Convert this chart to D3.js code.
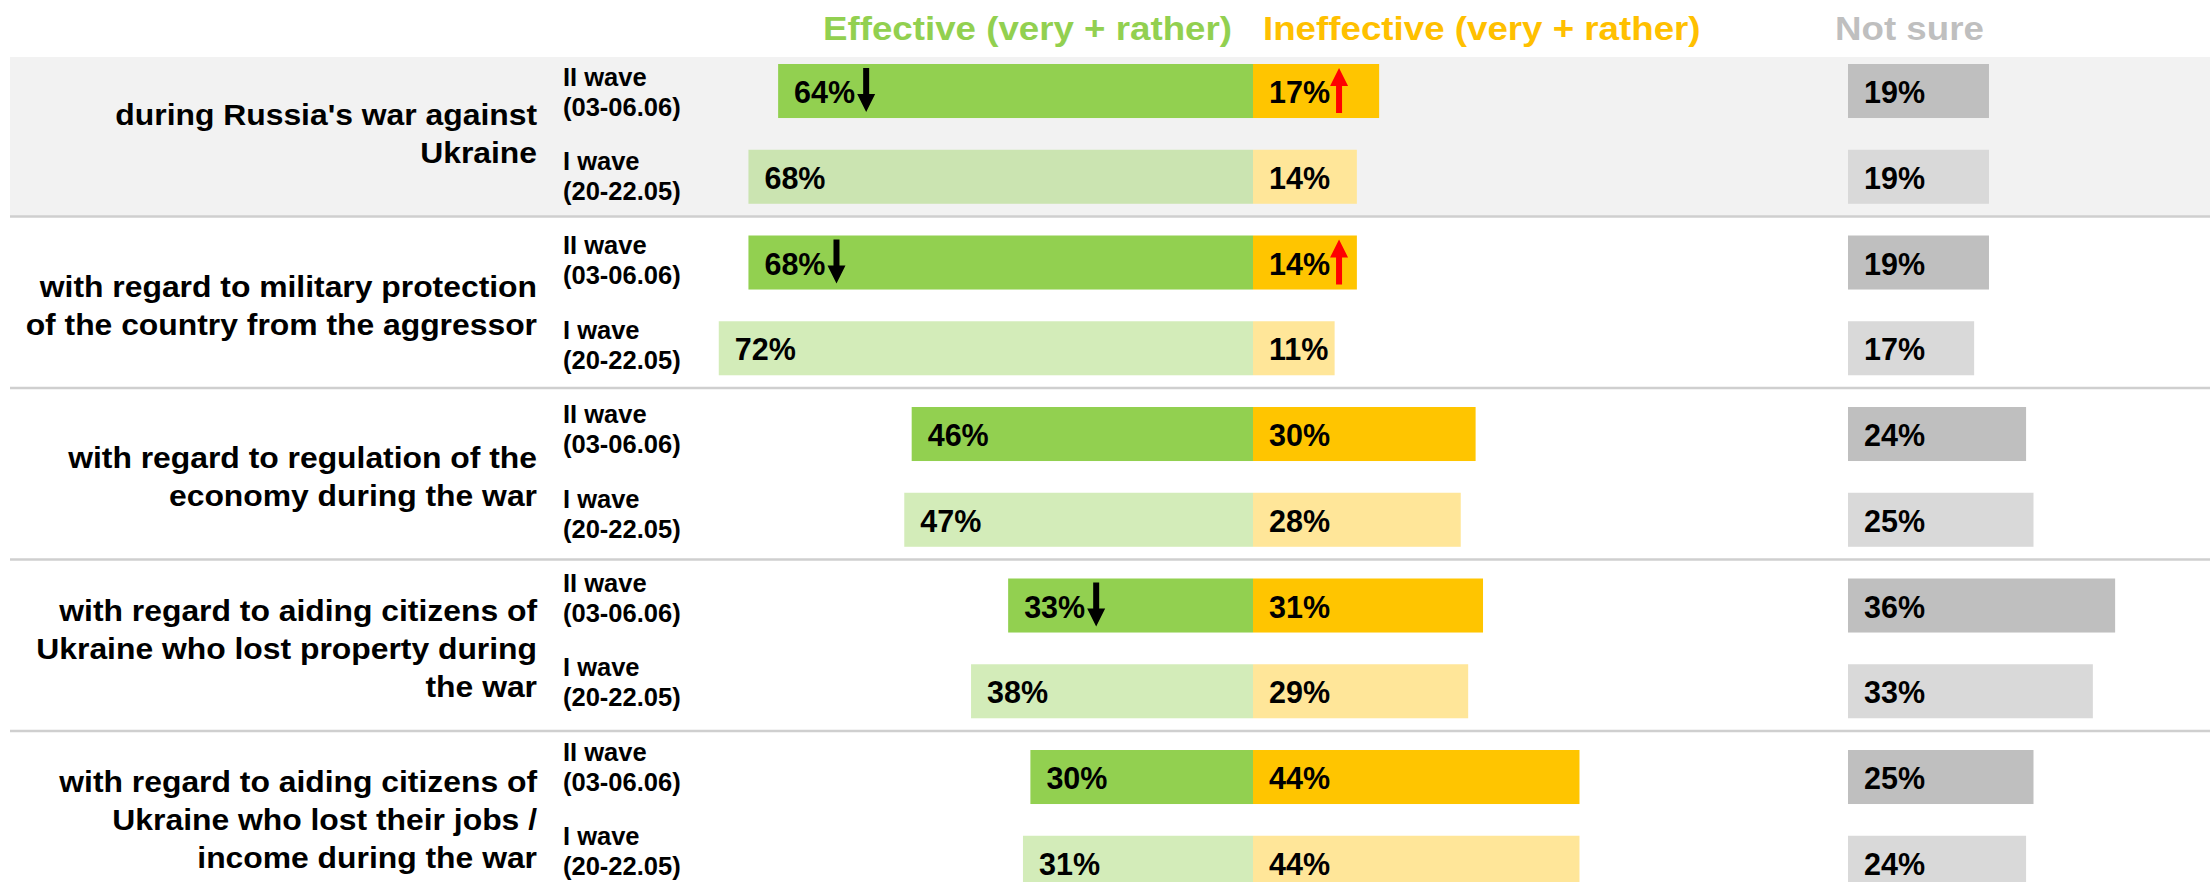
<!DOCTYPE html>
<html>
<head>
<meta charset="utf-8">
<script src="https://cdnjs.cloudflare.com/ajax/libs/d3/7.8.5/d3.min.js"></script>
<style>
  body { margin: 0; background: #fff; }
  text { font-family: "Liberation Sans", Arial, sans-serif; font-weight: bold; }
</style>
</head>
<body>
<div id="chart"></div>
<script>
// category labels, already broken into lines as on the slide
var categories = [
  ["during Russia's war against", "Ukraine"],
  ["with regard to military protection", "of the country from the aggressor"],
  ["with regard to regulation of the", "economy during the war"],
  ["with regard to aiding citizens of", "Ukraine who lost property during", "the war"],
  ["with regard to aiding citizens of", "Ukraine who lost their jobs /", "income during the war"]
];
var waves = ["II wave", "I wave"];
var waveDates = ["(03-06.06)", "(20-22.05)"];
var seriesNames = ["Effective (very + rather)", "Ineffective (very + rather)", "Not sure"];

// values per category: [II wave, I wave]
var effective   = [[64, 68], [68, 72], [46, 47], [33, 38], [30, 31]];
var ineffective = [[17, 14], [14, 11], [30, 28], [31, 29], [44, 44]];
var notSure     = [[19, 19], [19, 17], [24, 25], [36, 33], [25, 24]];

// significant change markers (II wave only)
var effectiveChange   = [["down", null], ["down", null], [null, null], ["down", null], [null, null]];
var ineffectiveChange = [["up", null], ["up", null], [null, null], [null, null], [null, null]];

var fullWidth = 2210;
var fullHeight = 882;
var center = 1253;      // where effective meets ineffective
var notSureX = 1848;    // start of the "not sure" column

var svg = d3.select('#chart').append('svg')
  .attr('width', fullWidth)
  .attr('height', fullHeight);

// one row per (category, wave)
var rows = [];
categories.forEach(function(c, g) {
  waves.forEach(function(w, i) {
    rows.push({
      key: g + '-' + i, g: g, w: i,
      eff: effective[g][i], ineff: ineffective[g][i], ns: notSure[g][i],
      effChange: effectiveChange[g][i], ineffChange: ineffectiveChange[g][i]
    });
  });
});

var step = 85.75;
var pad = 0.37;
var top0 = 64 - step * pad / 2;
var yScale = d3.scaleBand()
  .domain(rows.map(function(d) { return d.key; }))
  .range([top0, top0 + step * rows.length])
  .paddingInner(pad)
  .paddingOuter(pad / 2);
var bw = yScale.bandwidth();

// the wave labels sit on a slightly tighter grid than the bars
var labelScale = d3.scalePoint()
  .domain(rows.map(function(d) { return d.key; }))
  .range([85.5, 85.5 + 84.4 * (rows.length - 1)]);

var xScale = d3.scaleLinear()
  .domain([0, 100])
  .range([0, 742]);

var green = '#92d050', yellow = '#ffc500';

// grey background behind the first category
svg.append('rect')
  .attr('x', 10)
  .attr('y', 57)
  .attr('width', fullWidth - 10)
  .attr('height', yScale('1-0') - 19 - 57)
  .attr('fill', '#f2f2f2');

// separators between categories
svg.selectAll('line.sep')
    .data(d3.range(1, categories.length))
  .enter().append('line')
    .classed('sep', true)
    .attr('x1', 10)
    .attr('x2', fullWidth)
    .attr('y1', function(g) { return yScale(g + '-0') - 19; })
    .attr('y2', function(g) { return yScale(g + '-0') - 19; })
    .attr('stroke', '#cfcfcf')
    .attr('stroke-width', 2.5);

// legend / column headers (the slide font is a bit wider than Arial)
function stretchedText(sel, x, y, size, sx, anchor, str) {
  return sel.append('text')
    .attr('transform', 'translate(' + x + ',' + y + ') scale(' + sx + ',1)')
    .attr('text-anchor', anchor)
    .style('font-size', size + 'px')
    .text(str);
}
stretchedText(svg, center - 21, 40, 32.5, 1.13, 'end', seriesNames[0]).attr('fill', green);
stretchedText(svg, 1263, 40, 32.5, 1.13, 'start', seriesNames[1]).attr('fill', '#ffc000');
stretchedText(svg, 1835, 40, 32.5, 1.13, 'start', seriesNames[2]).attr('fill', '#bfbfbf');

// category labels
categories.forEach(function(lines, g) {
  var mid = (yScale(g + '-0') + yScale(g + '-1') + bw) / 2;
  var lh = 38;
  lines.forEach(function(line, j) {
    var yy = mid + (j - (lines.length - 1) / 2) * lh + 10.5;
    stretchedText(svg, 537, yy, 29.5, 1.08, 'end', line).attr('fill', '#000');
  });
});

// wave labels
var rowG = svg.selectAll('g.row')
    .data(rows)
  .enter().append('g')
    .classed('row', true);

rowG.append('text')
  .attr('x', 563)
  .attr('y', function(d) { return labelScale(d.key); })
  .style('font-size', '25.5px')
  .text(function(d) { return waves[d.w]; });
rowG.append('text')
  .attr('x', 563)
  .attr('y', function(d) { return labelScale(d.key) + 30; })
  .style('font-size', '25.5px')
  .text(function(d) { return waveDates[d.w]; });

// bars
rowG.append('rect')
  .attr('x', function(d) { return center - xScale(d.eff); })
  .attr('y', function(d) { return yScale(d.key); })
  .attr('width', function(d) { return xScale(d.eff); })
  .attr('height', bw)
  .attr('fill', green)
  .attr('fill-opacity', function(d) { return d.w === 0 ? 1 : 0.4; });

rowG.append('rect')
  .attr('x', center)
  .attr('y', function(d) { return yScale(d.key); })
  .attr('width', function(d) { return xScale(d.ineff); })
  .attr('height', bw)
  .attr('fill', function(d) { return d.w === 0 ? yellow : '#ffe699'; });

rowG.append('rect')
  .attr('x', notSureX)
  .attr('y', function(d) { return yScale(d.key); })
  .attr('width', function(d) { return xScale(d.ns); })
  .attr('height', bw)
  .attr('fill', function(d) { return d.w === 0 ? '#bfbfbf' : '#d9d9d9'; });

// value labels
function valueLabel(xFn, valFn) {
  return rowG.append('text')
    .attr('x', xFn)
    .attr('y', function(d) { return yScale(d.key) + bw / 2 + 12; })
    .style('font-size', '30.5px')
    .attr('fill', '#000')
    .text(function(d) { return valFn(d) + '%'; });
}
var effLabels = valueLabel(function(d) { return center - xScale(d.eff) + 16; }, function(d) { return d.eff; });
var ineffLabels = valueLabel(function() { return center + 16; }, function(d) { return d.ineff; });
valueLabel(function() { return notSureX + 16; }, function(d) { return d.ns; });

// change arrows next to the labels
function arrow(x, yTop, yBot, dir, color) {
  var head = 18, half = 9, shaft = 3;
  var p;
  if (dir === 'down') {
    p = [[x - shaft, yTop], [x + shaft, yTop], [x + shaft, yBot - head], [x + half, yBot - head],
         [x, yBot], [x - half, yBot - head], [x - shaft, yBot - head]];
  } else {
    p = [[x - shaft, yBot], [x + shaft, yBot], [x + shaft, yTop + head], [x + half, yTop + head],
         [x, yTop], [x - half, yTop + head], [x - shaft, yTop + head]];
  }
  svg.append('polygon')
    .attr('points', p.map(function(q) { return q.join(','); }).join(' '))
    .attr('fill', color);
}
effLabels.each(function(d) {
  if (!d.effChange) return;
  var end = +this.getAttribute('x') + this.getComputedTextLength();
  arrow(end + 11, yScale(d.key) + 4, yScale(d.key) + bw - 6, d.effChange, '#000');
});
ineffLabels.each(function(d) {
  if (!d.ineffChange) return;
  var end = +this.getAttribute('x') + this.getComputedTextLength();
  arrow(end + 9, yScale(d.key) + 4, yScale(d.key) + bw - 5, d.ineffChange, '#ff0000');
});
</script>
</body>
</html>
